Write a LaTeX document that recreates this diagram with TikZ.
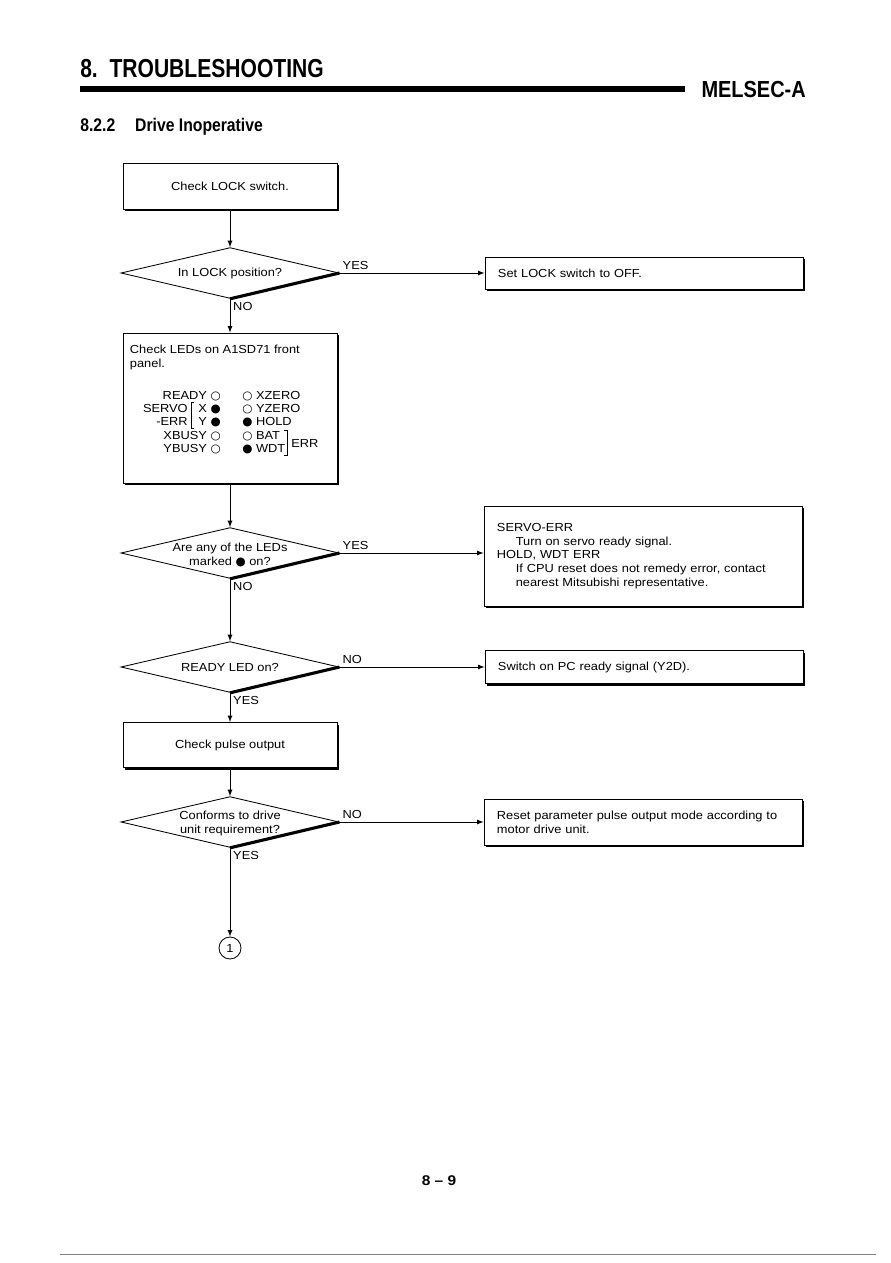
\documentclass[tikz,border=0pt]{standalone}
\usepackage{fontspec}
\setmainfont{Liberation Sans}[FakeStretch=1.1]
\newfontfamily\headfont{Liberation Sans}[FakeStretch=0.86]
\newfontfamily\titlefont{Liberation Sans}[FakeStretch=0.81]
\newfontfamily\symfont{DejaVu Sans}
\usepackage{tikz}
\usetikzlibrary{arrows,positioning,shapes.geometric,shadows}
\newcommand{\ledon}{{\symfont ●}}
\newcommand{\ledoff}{{\symfont ○}}

\begin{document}
\begin{tikzpicture}[x=0.025cm,y=-0.025cm,
    every node/.style={font=\fontsize{8.3}{9.8}\selectfont},
    procbox/.style={draw,fill=white,line width=0.6pt,
      drop shadow={shadow xshift=0.06cm,shadow yshift=-0.06cm,opacity=1,fill=black}},
    notebox/.style={procbox,align=left,inner xsep=0.325cm,text width=7.3cm},
    decision/.style={draw,diamond,line width=0.6pt,inner sep=0pt,
      minimum width=5.45cm,minimum height=1.27cm},
    flow/.style={-latex,line width=0.6pt},
    answer/.style={inner sep=2pt},
    led/.style={inner sep=0pt}]
    \useasboundingbox (0,0) rectangle (890,1263);

    % page head
    \node[anchor=base west,inner sep=0,font=\titlefont\bfseries\fontsize{18.5}{20}\selectfont] (title) at (80,77) {8.\ \ TROUBLESHOOTING};
    \node[anchor=base east,inner sep=0,font=\headfont\bfseries\fontsize{16.5}{18}\selectfont] (maker) at (806,97) {MELSEC-A};
    \draw[line width=3.6pt] (title.south west |- 0,89) -- (685,89);
    \node[anchor=base west,inner sep=0,font=\headfont\bfseries\fontsize{13}{15}\selectfont] (section) at (80,131) {8.2.2\hspace*{0.5cm}Drive Inoperative};

    % left column
    \node[procbox,minimum width=5.35cm,minimum height=1.15cm] (lock) at (230,186) {Check LOCK switch.};
    \node[decision,label={center:In LOCK position?}] (inlock) at (230,273) {};
    \node[procbox,minimum width=5.35cm,minimum height=3.75cm] (leds) at (230,408) {};
    \node[decision,label={[align=center,yshift=-0.05cm]center:Are any of the LEDs\\marked \ledon\ on?}] (marked) at (230,553) {};
    \node[decision,label={center:READY LED on?}] (ready) at (230,667) {};
    \node[procbox,minimum width=5.35cm,minimum height=1.125cm] (pulse) at (230,745) {Check pulse output};
    \node[decision,label={[align=center,yshift=-0.03cm]center:Conforms to drive\\unit requirement?}] (conform) at (230,822) {};
    \node[draw,circle,line width=0.6pt,minimum size=0.55cm,inner sep=0pt] (cont) at (230,948) {1};

    % thick lower right edges
    \foreach \d in {inlock,marked,ready,conform}
      \draw[line width=2.2pt] (\d.south) -- (\d.east);

    % LED panel
    \node[anchor=north west,align=left] (ledhead) at (125,340) {Check LEDs on A1SD71 front\\panel.};
    \node[led,anchor=base east] (rdy) at (221,399) {READY \ledoff};
    \node[led,anchor=base east] (srvx) at (221,412) {X \ledon};
    \node[led,anchor=base east] (srvy) at (221,425) {Y \ledon};
    \node[led,anchor=base east] (srv) at (188,412) {SERVO};
    \node[led,anchor=base east] (srverr) at (188,425) {-ERR};
    \node[led,anchor=base east] (xbsy) at (221,439) {XBUSY \ledoff};
    \node[led,anchor=base east] (ybsy) at (221,452) {YBUSY \ledoff};
    \node[led,anchor=base west] (xzr) at (242,399) {\ledoff\ XZERO};
    \node[led,anchor=base west] (yzr) at (242,412) {\ledoff\ YZERO};
    \node[led,anchor=base west] (hold) at (242,425) {\ledon\ HOLD};
    \node[led,anchor=base west] (bat) at (242,439) {\ledoff\ BAT};
    \node[led,anchor=base west] (wdt) at (242,452) {\ledon\ WDT};
    \node[led,anchor=west] (ledrr) at (291,443) {ERR};
    \draw[line width=0.6pt] (194,402) -- (191,402) -- (191,428) -- (194,428);
    \draw[line width=0.6pt] (284,430) -- (287,430) -- (287,455) -- (284,455);

    % right column
    \node[notebox,minimum height=0.8cm] (setoff) at (644,273) {Set LOCK switch to OFF.};
    \node[notebox,minimum height=2.5cm] (fix) at (643,556) {SERVO-ERR\\
      \hspace*{0.47cm}Turn on servo ready signal.\\
      HOLD, WDT ERR\\
      \hspace*{0.47cm}If CPU reset does not remedy error, contact\\
      \hspace*{0.47cm}nearest Mitsubishi representative.};
    \node[notebox,minimum height=0.825cm] (pcready) at (644,667) {Switch on PC ready signal (Y2D).};
    \node[notebox,minimum height=1.15cm] (param) at (643,822) {Reset parameter pulse output mode according to\\motor drive unit.};

    % connectors
    \draw[flow] (lock) -- (inlock);
    \draw[flow] (inlock.east) -- node[pos=0,anchor=south west,answer] {YES} (setoff);
    \draw[flow] (inlock) -- node[pos=0,anchor=north west,answer] {NO} (leds);
    \draw[flow] (leds) -- (marked);
    \draw[flow] (marked.east) -- node[pos=0,anchor=south west,answer] {YES} (marked.east -| fix.west);
    \draw[flow] (marked) -- node[pos=0,anchor=north west,answer] {NO} (ready);
    \draw[flow] (ready.east) -- node[pos=0,anchor=south west,answer] {NO} (pcready);
    \draw[flow] (ready) -- node[pos=0,anchor=north west,answer] {YES} (pulse);
    \draw[flow] (pulse) -- (conform);
    \draw[flow] (conform.east) -- node[pos=0,anchor=south west,answer] {NO} (param);
    \draw[flow] (conform) -- node[pos=0,anchor=north west,answer] {YES} (cont);

    % page foot
    \node[font=\bfseries\fontsize{10}{12}\selectfont] (page) at (439,1181) {8 -- 9};
    \draw[gray,line width=0.5pt] (60,1254) -- (876,1254);
\end{tikzpicture}
\end{document}
